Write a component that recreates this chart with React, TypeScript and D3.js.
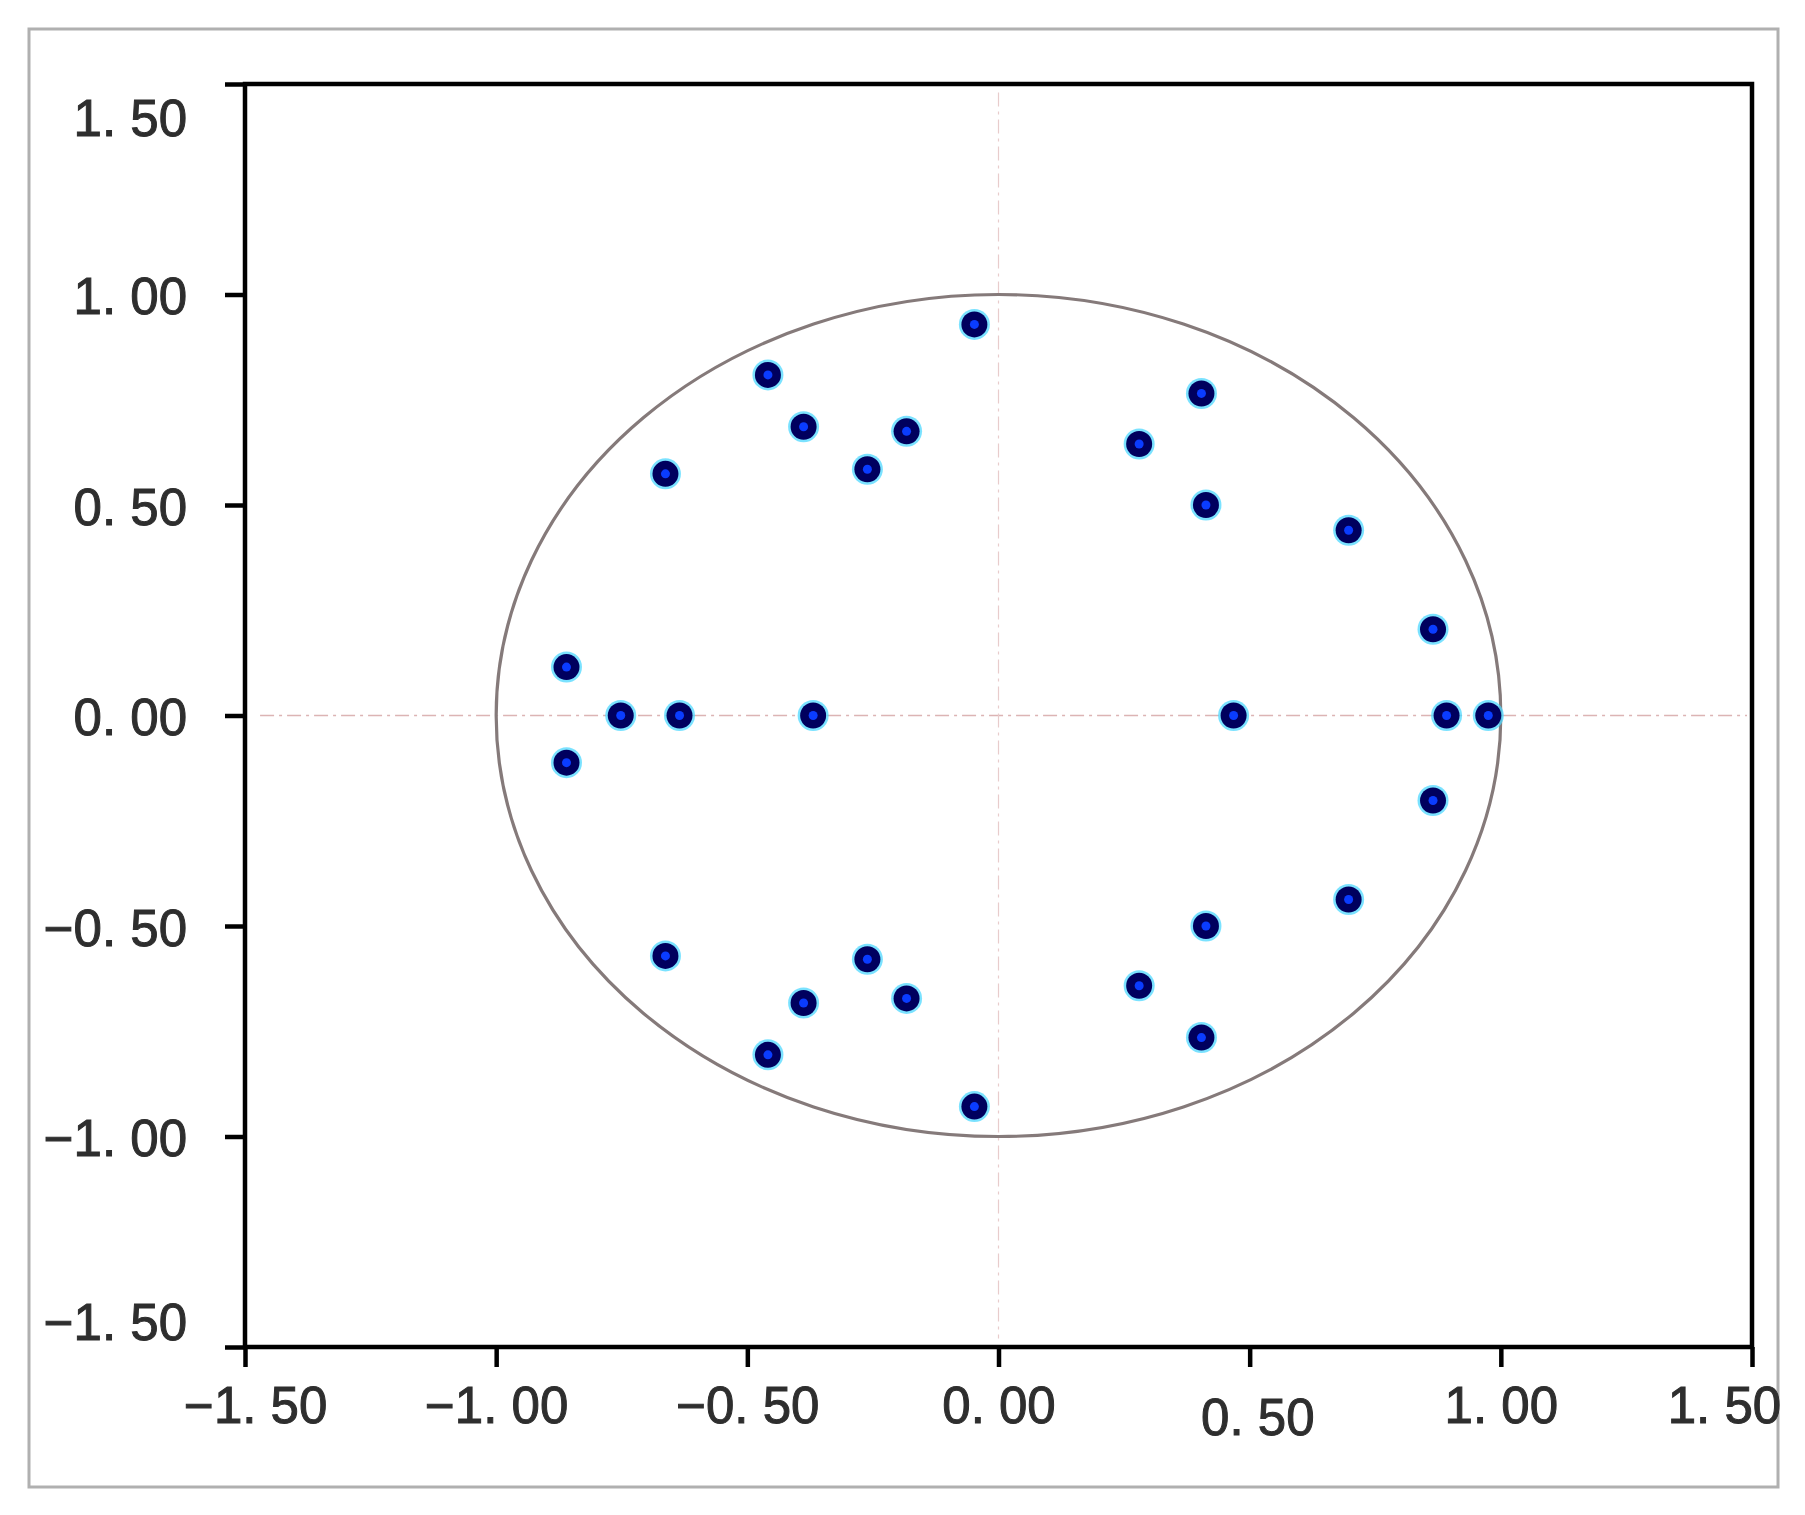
import React, { useRef, useEffect } from 'react';
import * as d3 from 'd3';

// pole / root positions
const rootRe = [
  -0.048, -0.459, -0.388, -0.183, -0.261, -0.663, 0.404, 0.28, 0.413, 0.697, 0.865, -0.86,
  -0.752, -0.635, -0.369, 0.468, 0.892, 0.975,
  -0.86, 0.865, 0.697, 0.413, -0.663, -0.261, 0.28, -0.388, -0.183, 0.404, -0.459, -0.048,
];
const rootIm = [
  0.929, 0.809, 0.686, 0.675, 0.585, 0.574, 0.765, 0.645, 0.5, 0.44, 0.205, 0.115,
  0, 0, 0, 0, 0, 0,
  -0.112, -0.202, -0.437, -0.5, -0.571, -0.579, -0.642, -0.683, -0.672, -0.765, -0.806, -0.929,
];
const xTicks = [-1.5, -1, -0.5, 0, 0.5, 1, 1.5];
const yTicks = [-1.5, -1, -0.5, 0, 0.5, 1, 1.5];

const fmt = (d: number) => d.toFixed(2).replace('.', '. ').replace('-', '−');

export default function App() {
  const svgRef = useRef<SVGSVGElement>(null);

  useEffect(() => {
    const W = 1805, H = 1515;
    const margin = { top: 84, right: 53, bottom: 168, left: 245 };
    const width = W - margin.left - margin.right;
    const height = H - margin.top - margin.bottom;

    const root = d3.select(svgRef.current);
    root.selectAll('*').remove();

    // outer frame
    root.append('rect')
      .attr('x', 29).attr('y', 29)
      .attr('width', 1749).attr('height', 1458)
      .attr('fill', 'white')
      .attr('stroke', '#b0b0b0')
      .attr('stroke-width', 3);

    const svg = root.append('g')
      .attr('transform', `translate(${margin.left},${margin.top})`);

    const x = d3.scaleLinear().domain([-1.5, 1.5]).range([0, width]);
    const y = d3.scaleLinear().domain([-1.5, 1.5]).range([height, 0]);

    // dash-dot crosshair
    svg.append('line')
      .attr('x1', x(-1.47)).attr('x2', x(1.49))
      .attr('y1', y(0)).attr('y2', y(0))
      .attr('stroke', '#dcb4b4')
      .attr('stroke-width', 1.5)
      .attr('stroke-dasharray', '14,5,3,5');
    svg.append('line')
      .attr('x1', x(0)).attr('x2', x(0))
      .attr('y1', y(1.48)).attr('y2', y(-1.48))
      .attr('stroke', '#e8cccc')
      .attr('stroke-width', 1.2)
      .attr('stroke-dasharray', '14,5,3,5');

    // unit circle
    svg.append('ellipse')
      .attr('cx', x(0)).attr('cy', y(0))
      .attr('rx', x(1) - x(0)).attr('ry', y(0) - y(1))
      .attr('fill', 'none')
      .attr('stroke', '#857a7a')
      .attr('stroke-width', 3.2);

    const pts = rootRe.map((re, i) => ({ re, im: rootIm[i] }));

    const g = svg.append('g');
    g.selectAll('circle.halo')
      .data(pts).enter().append('circle')
      .attr('class', 'halo')
      .attr('cx', d => x(d.re)).attr('cy', d => y(d.im))
      .attr('r', 15.5)
      .attr('fill', '#4fd8ff')
      .attr('opacity', 0.75);
    g.selectAll('circle.dot')
      .data(pts).enter().append('circle')
      .attr('class', 'dot')
      .attr('cx', d => x(d.re)).attr('cy', d => y(d.im))
      .attr('r', 13)
      .attr('fill', '#00005e');
    g.selectAll('circle.core')
      .data(pts).enter().append('circle')
      .attr('class', 'core')
      .attr('cx', d => x(d.re)).attr('cy', d => y(d.im))
      .attr('r', 4.5)
      .attr('fill', '#0a3cff');

    // box
    svg.append('rect')
      .attr('x', 0).attr('y', 0)
      .attr('width', width).attr('height', height)
      .attr('fill', 'none')
      .attr('stroke', '#000')
      .attr('stroke-width', 4.5);

    const font = '"Liberation Sans", Arial, sans-serif';

    const yAxis = svg.append('g')
      .call(d3.axisLeft(y).tickValues(yTicks).tickSize(20).tickFormat(d => fmt(+d)));
    yAxis.select('.domain').remove();
    yAxis.selectAll('line').attr('stroke', '#000').attr('stroke-width', 4.5);
    yAxis.selectAll('text')
      .attr('x', -58)
      .attr('dy', (d: any) => (d === 1.5 ? '1.0em' : d === -1.5 ? '-0.15em' : '0.38em'))
      .attr('fill', '#2e2e2e')
      .attr('stroke', '#2e2e2e')
      .attr('stroke-width', 1)
      .style('font-family', font)
      .style('font-size', '51px');

    const xAxis = svg.append('g')
      .attr('transform', `translate(0,${height})`)
      .call(d3.axisBottom(x).tickValues(xTicks).tickSize(20).tickFormat(d => fmt(+d)));
    xAxis.select('.domain').remove();
    xAxis.selectAll('line').attr('stroke', '#000').attr('stroke-width', 4.5);
    xAxis.selectAll('text')
      .attr('y', 40)
      .attr('dx', (d: any) => (d === 1.5 ? '-0.55em' : d === 0.5 ? '0.15em' : d === -1.5 ? '0.2em' : '0'))
      .attr('dy', (d: any) => (d === 0.5 ? '0.95em' : '0.71em'))
      .attr('fill', '#2e2e2e')
      .attr('stroke', '#2e2e2e')
      .attr('stroke-width', 1)
      .style('font-family', font)
      .style('font-size', '51px');
  }, []);

  return (
    <div style={{ position: 'absolute', left: 0, top: 0 }}>
      <svg ref={svgRef} width={1805} height={1515} style={{ display: 'block', background: 'white' }} />
    </div>
  );
}
